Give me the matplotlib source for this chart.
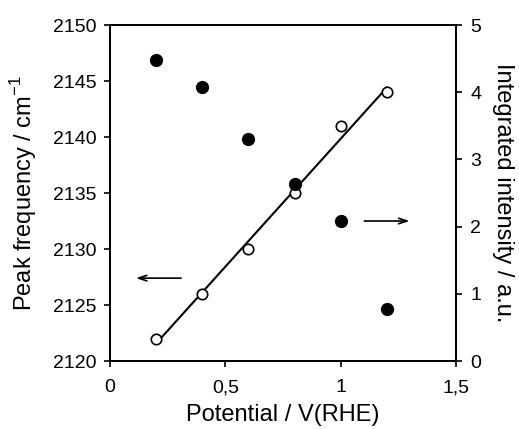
import numpy as np
import matplotlib.pyplot as plt

plt.rcParams['font.family'] = ['Liberation Sans', 'DejaVu Sans']

# potential (V vs RHE)
potential = [0.2, 0.4, 0.6, 0.8, 1.0, 1.2]
# peak frequency, open circles, left axis
peak_freq = [2122, 2126, 2130, 2135, 2141, 2144]
# integrated intensity, filled circles, right axis
intensity = [4.48, 4.08, 3.30, 2.63, 2.08, 0.77]

x_ticks = [0, 0.5, 1, 1.5]
x_labels = ['0', '0,5', '1', '1,5']

fig = plt.figure(figsize=(5.19, 4.29), dpi=100)
ax = fig.add_axes([0.212, 0.1585, 0.667, 0.7832])
ax2 = ax.twinx()

# linear fit through the peak frequencies
p = np.polyfit(potential, peak_freq, 1)
xf = np.array([potential[0], potential[-1]])
ax.plot(xf, np.polyval(p, xf), color='black', lw=1.5, zorder=2)
ax.plot(potential, peak_freq, 'o', mfc='white', mec='black', mew=1.2, ms=7.5, zorder=3)
ax2.plot(potential, intensity, 'o', color='black', ms=8.5, zorder=3)

ax.set_xlim(0, 1.5)
ax.set_ylim(2120, 2150)
ax2.set_ylim(0, 5)
ax.set_xticks(x_ticks)
ax.set_xticklabels(x_labels)
ax.set_yticks(range(2120, 2151, 5))
ax2.set_yticks(range(0, 6))

for a in (ax, ax2):
    a.tick_params(direction='out', length=4, width=1.2, labelsize=14, pad=6)
    for s in a.spines.values():
        s.set_linewidth(1.3)
ax.tick_params(axis='x', pad=9)

ax.set_xlabel('Potential / V(RHE)', fontsize=17, labelpad=6)
ax.set_ylabel('Peak frequency / cm$^{\\mathregular{-1}}$', fontsize=17, labelpad=10)
ax2.set_ylabel('Integrated intensity / a.u.', fontsize=17, rotation=270, labelpad=24)

# arrows pointing to the relevant axes
arrow = dict(arrowstyle='->,head_length=0.6,head_width=0.2', lw=1.2, color='black')
ax.annotate('', xy=(0.10, 2127.4), xytext=(0.32, 2127.4), arrowprops=arrow)
ax.annotate('', xy=(1.31, 2132.5), xytext=(1.09, 2132.5), arrowprops=arrow)

fig.savefig('out.png', dpi=100)
